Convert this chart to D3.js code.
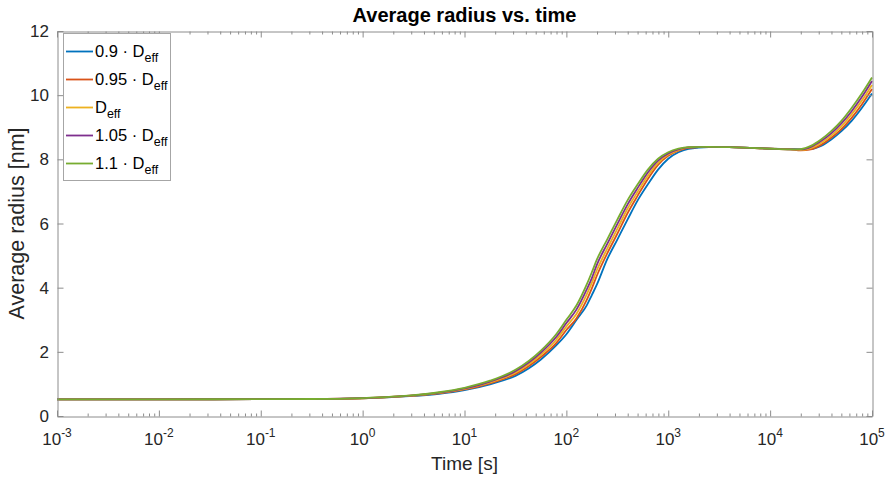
<!DOCTYPE html>
<html>
<head>
<meta charset="utf-8">
<script src="https://cdn.jsdelivr.net/npm/d3@7"></script>
<style>
  body { margin: 0; background: #fff; }
  svg { font-family: "Liberation Sans", Arial, Helvetica, sans-serif; }
</style>
</head>
<body>
<div id="chart"></div>
<script>
"use strict"
var logTimes = [-3, -2, -1, -0.5, 0, 0.5, 0.75, 1, 1.25, 1.5, 1.75, 1.9, 2.0, 2.1, 2.2, 2.25, 2.3, 2.4, 2.5, 2.6,
                2.7, 2.8, 2.9, 3.0, 3.1, 3.2, 3.4, 3.6, 3.8, 4.0, 4.2, 4.3, 4.4, 4.5, 4.6, 4.7, 4.8, 4.9, 5.0];

// average radius [nm] per curve
var r090 = [0.52, 0.52, 0.525, 0.53, 0.548, 0.626, 0.694, 0.808, 0.988, 1.252, 1.762, 2.2, 2.55, 3.0, 3.45, 3.77, 4.1, 4.88, 5.5, 6.12,
            6.72, 7.22, 7.68, 8.02, 8.22, 8.33, 8.385, 8.38, 8.36, 8.335, 8.32, 8.31, 8.32, 8.42, 8.62, 8.88, 9.2, 9.6, 10.05];
var r095 = [0.52, 0.52, 0.525, 0.53, 0.551, 0.633, 0.707, 0.828, 1.019, 1.305, 1.84, 2.27, 2.68, 3.05, 3.62, 3.98, 4.38, 5.06, 5.68, 6.32,
            6.87, 7.39, 7.83, 8.11, 8.27, 8.36, 8.39, 8.38, 8.36, 8.33, 8.31, 8.28, 8.31, 8.45, 8.67, 8.94, 9.29, 9.71, 10.19];
var r100 = [0.52, 0.52, 0.525, 0.53, 0.554, 0.639, 0.718, 0.846, 1.047, 1.352, 1.909, 2.37, 2.79, 3.19, 3.79, 4.15, 4.55, 5.21, 5.83, 6.46,
            6.99, 7.49, 7.89, 8.15, 8.29, 8.37, 8.39, 8.38, 8.36, 8.33, 8.31, 8.29, 8.35, 8.51, 8.74, 9.03, 9.40, 9.83, 10.32];
var r105 = [0.52, 0.52, 0.525, 0.53, 0.557, 0.644, 0.729, 0.863, 1.074, 1.397, 1.976, 2.462, 2.896, 3.323, 3.946, 4.30, 4.72, 5.36, 5.98, 6.59,
            7.11, 7.59, 7.96, 8.18, 8.31, 8.37, 8.39, 8.38, 8.36, 8.33, 8.31, 8.31, 8.39, 8.57, 8.81, 9.12, 9.50, 9.94, 10.44];
var r110 = [0.52, 0.52, 0.525, 0.53, 0.56, 0.65, 0.74, 0.88, 1.10, 1.44, 2.04, 2.55, 3.0, 3.45, 4.1, 4.48, 4.88, 5.5, 6.12, 6.72,
            7.22, 7.68, 8.02, 8.22, 8.33, 8.38, 8.39, 8.38, 8.36, 8.33, 8.31, 8.32, 8.42, 8.62, 8.88, 9.2, 9.6, 10.05, 10.55];

var seriesNames = ["0.9 \u00b7 D", "0.95 \u00b7 D", "D", "1.05 \u00b7 D", "1.1 \u00b7 D"];
var seriesValues = [r090, r095, r100, r105, r110];
var colors = ["#0072BD", "#D95319", "#EDB120", "#7E2F8E", "#77AC30"];

var xTickExps = [-3, -2, -1, 0, 1, 2, 3, 4, 5];
var yTicks = [0, 2, 4, 6, 8, 10, 12];

var width = 889, height = 479;
var margin = {top: 31, right: 17, bottom: 63, left: 57};
var x0 = margin.left, x1 = width - margin.right;
var y0 = height - margin.bottom, y1 = margin.top;

var xScale = d3.scaleLog().domain([1e-3, 1e5]).range([x0, x1]);
var yScale = d3.scaleLinear().domain([0, 12]).range([y0, y1]);

var svg = d3.select("#chart").append("svg")
    .attr("width", width)
    .attr("height", height);

var axisColor = "#8c8c8c";
var textColor = "#262626";

// minor ticks of each decade
var minorTicks = [];
for (var e = -3; e < 5; e++) {
    for (var m = 2; m <= 9; m++) minorTicks.push(m * Math.pow(10, e));
}

// curves
var line = d3.line()
    .x(function(d) { return xScale(Math.pow(10, d[0])) })
    .y(function(d) { return yScale(d[1]) })
    .curve(d3.curveMonotoneX);

var gLines = svg.append("g");
seriesValues.forEach(function(vals, i) {
    var pts = logTimes.map(function(t, j) { return [t, vals[j]] });
    gLines.append("path")
        .datum(pts)
        .attr("d", line)
        .attr("fill", "none")
        .attr("stroke", colors[i])
        .attr("stroke-width", 1.8)
        .attr("stroke-linejoin", "round");
});

// axes (ticks inward on all four sides, like a boxed plot)
function styleAxis(g) {
    g.selectAll(".domain").attr("stroke", axisColor).attr("stroke-width", 1);
    g.selectAll(".tick line").attr("stroke", axisColor).attr("stroke-width", 1);
}

var bottomMajor = svg.append("g")
    .attr("transform", "translate(0," + (y0 + 0.5) + ")")
    .call(d3.axisBottom(xScale).tickValues(xTickExps.map(function(e) { return Math.pow(10, e) }))
        .tickSizeInner(-6).tickSizeOuter(0).tickFormat(""));
styleAxis(bottomMajor);
var bottomMinor = svg.append("g")
    .attr("transform", "translate(0," + (y0 + 0.5) + ")")
    .call(d3.axisBottom(xScale).tickValues(minorTicks).tickSizeInner(-3).tickSizeOuter(0).tickFormat(""));
styleAxis(bottomMinor);
bottomMinor.select(".domain").remove();

var topMajor = svg.append("g")
    .attr("transform", "translate(0," + (y1 + 0.5) + ")")
    .call(d3.axisTop(xScale).tickValues(xTickExps.map(function(e) { return Math.pow(10, e) }))
        .tickSizeInner(-6).tickSizeOuter(0).tickFormat(""));
styleAxis(topMajor);
var topMinor = svg.append("g")
    .attr("transform", "translate(0," + (y1 + 0.5) + ")")
    .call(d3.axisTop(xScale).tickValues(minorTicks).tickSizeInner(-3).tickSizeOuter(0).tickFormat(""));
styleAxis(topMinor);
topMinor.select(".domain").remove();

var leftAxis = svg.append("g")
    .attr("transform", "translate(" + (x0 + 0.5) + ",0)")
    .call(d3.axisLeft(yScale).tickValues(yTicks).tickSizeInner(-6).tickSizeOuter(0).tickFormat(""));
styleAxis(leftAxis);
var rightAxis = svg.append("g")
    .attr("transform", "translate(" + (x1 + 0.5) + ",0)")
    .call(d3.axisRight(yScale).tickValues(yTicks).tickSizeInner(-6).tickSizeOuter(0).tickFormat(""));
styleAxis(rightAxis);

// tick labels
svg.append("g").selectAll("text")
    .data(yTicks)
    .enter().append("text")
    .attr("x", x0 - 8)
    .attr("y", function(d) { return yScale(d) + 6 })
    .attr("text-anchor", "end")
    .attr("fill", textColor)
    .style("font-size", "17px")
    .text(function(d) { return d });

var xLabels = svg.append("g").selectAll("text")
    .data(xTickExps)
    .enter().append("text")
    .attr("x", function(d) { return xScale(Math.pow(10, d)) })
    .attr("y", y0 + 29)
    .attr("text-anchor", "middle")
    .attr("fill", textColor)
    .style("font-size", "17px");
xLabels.append("tspan").text("10");
xLabels.append("tspan").attr("dy", -8).style("font-size", "12px").text(function(d) { return d });

// axis titles
svg.append("text")
    .attr("x", (x0 + x1) / 2)
    .attr("y", height - 9)
    .attr("text-anchor", "middle")
    .attr("fill", textColor)
    .style("font-size", "19px")
    .text("Time [s]");

svg.append("text")
    .attr("transform", "translate(24," + ((y0 + y1) / 2) + ") rotate(-90)")
    .attr("text-anchor", "middle")
    .attr("fill", textColor)
    .style("font-size", "21.5px")
    .text("Average radius [nm]");

svg.append("text")
    .attr("x", (x0 + x1) / 2)
    .attr("y", 22)
    .attr("text-anchor", "middle")
    .attr("fill", "#000")
    .style("font-size", "20px")
    .style("font-weight", "bold")
    .text("Average radius vs. time");

// legend
var legend = svg.append("g");
legend.append("rect")
    .attr("x", 63.5).attr("y", 33.5)
    .attr("width", 107).attr("height", 147)
    .attr("fill", "#fff")
    .attr("stroke", "#a6a6a6")
    .attr("stroke-width", 1);

var rowY = [51.5, 79.5, 107.5, 135.5, 163.5];
seriesNames.forEach(function(name, i) {
    legend.append("line")
        .attr("x1", 66).attr("x2", 93)
        .attr("y1", rowY[i]).attr("y2", rowY[i])
        .attr("stroke", colors[i])
        .attr("stroke-width", 1.8);
    var t = legend.append("text")
        .attr("x", 95)
        .attr("y", rowY[i] + 5.5)
        .attr("fill", "#000")
        .style("font-size", "16.5px");
    t.append("tspan").text(name);
    t.append("tspan").attr("dy", 5).style("font-size", "12.5px").text("eff");
});
</script>
</body>
</html>
